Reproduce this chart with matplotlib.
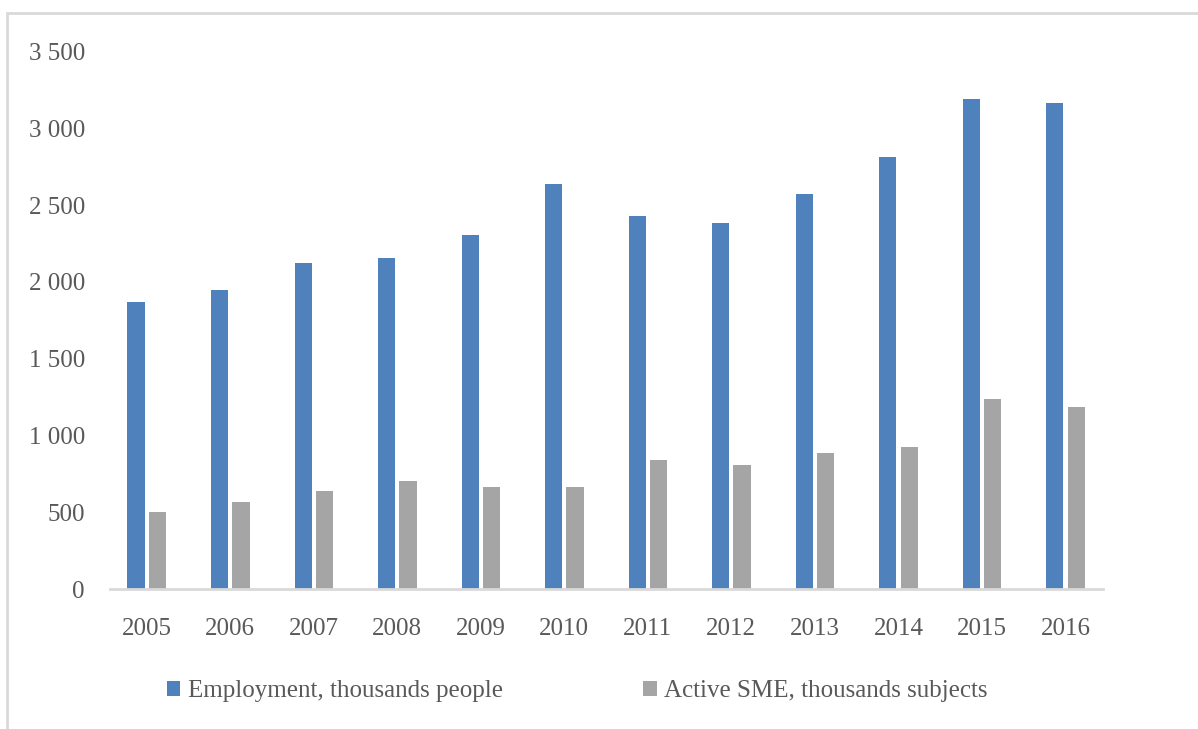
import numpy as np
import matplotlib.pyplot as plt
from matplotlib.patches import Rectangle

# data
years = ['2005', '2006', '2007', '2008', '2009', '2010',
         '2011', '2012', '2013', '2014', '2015', '2016']
employment = [1870, 1947, 2124, 2157, 2305, 2635, 2428, 2385, 2576, 2815, 3190, 3168]
active_sme = [503, 564, 640, 705, 662, 662, 840, 807, 883, 922, 1235, 1183]

blue = '#4f81bd'
grey = '#a5a5a5'
text_col = '#595959'

plt.rcParams['font.family'] = ['Liberation Serif', 'DejaVu Serif']

fig = plt.figure(figsize=(11.98, 7.29), dpi=100)
W, H = 1198, 729

# outer chart frame
fig.patches.append(Rectangle((7 / W, -0.1), 1.2, 1 - 13 / H + 0.1,
                             transform=fig.transFigure, fill=False,
                             edgecolor='#d9d9d9', linewidth=2))

ax = fig.add_axes([110 / W, 1 - 589 / H, (1103 - 110) / W, (589 - 51.7) / H])

x = np.arange(len(years))
w = 0.205
ax.bar(x - 0.128, employment, w, color=blue, label='Employment, thousands people')
ax.bar(x + 0.128, active_sme, w, color=grey, label='Active SME, thousands subjects')

ax.set_xlim(-0.44, len(years) - 1 + 0.45)
ax.set_ylim(0, 3500)
ax.set_yticks(range(0, 3501, 500))
ax.set_yticklabels([f'{v:,}'.replace(',', ' ') for v in range(0, 3501, 500)])
ax.set_xticks(x)
ax.set_xticklabels(years)

for s in ['top', 'right', 'left']:
    ax.spines[s].set_visible(False)
ax.spines['bottom'].set_color('#d9d9d9')
ax.spines['bottom'].set_linewidth(2)

ax.tick_params(axis='y', length=0, pad=18, labelsize=18, labelcolor=text_col)
ax.tick_params(axis='x', length=0, pad=21, labelsize=18, labelcolor=text_col)

fig.legend(loc='center', bbox_to_anchor=(577 / W, 1 - 691 / H), ncol=2,
           frameon=False, fontsize=18, labelcolor=text_col,
           handlelength=0.55, handleheight=0.55, handletextpad=0.3,
           columnspacing=5.6)

fig.savefig('out.png', dpi=100)
